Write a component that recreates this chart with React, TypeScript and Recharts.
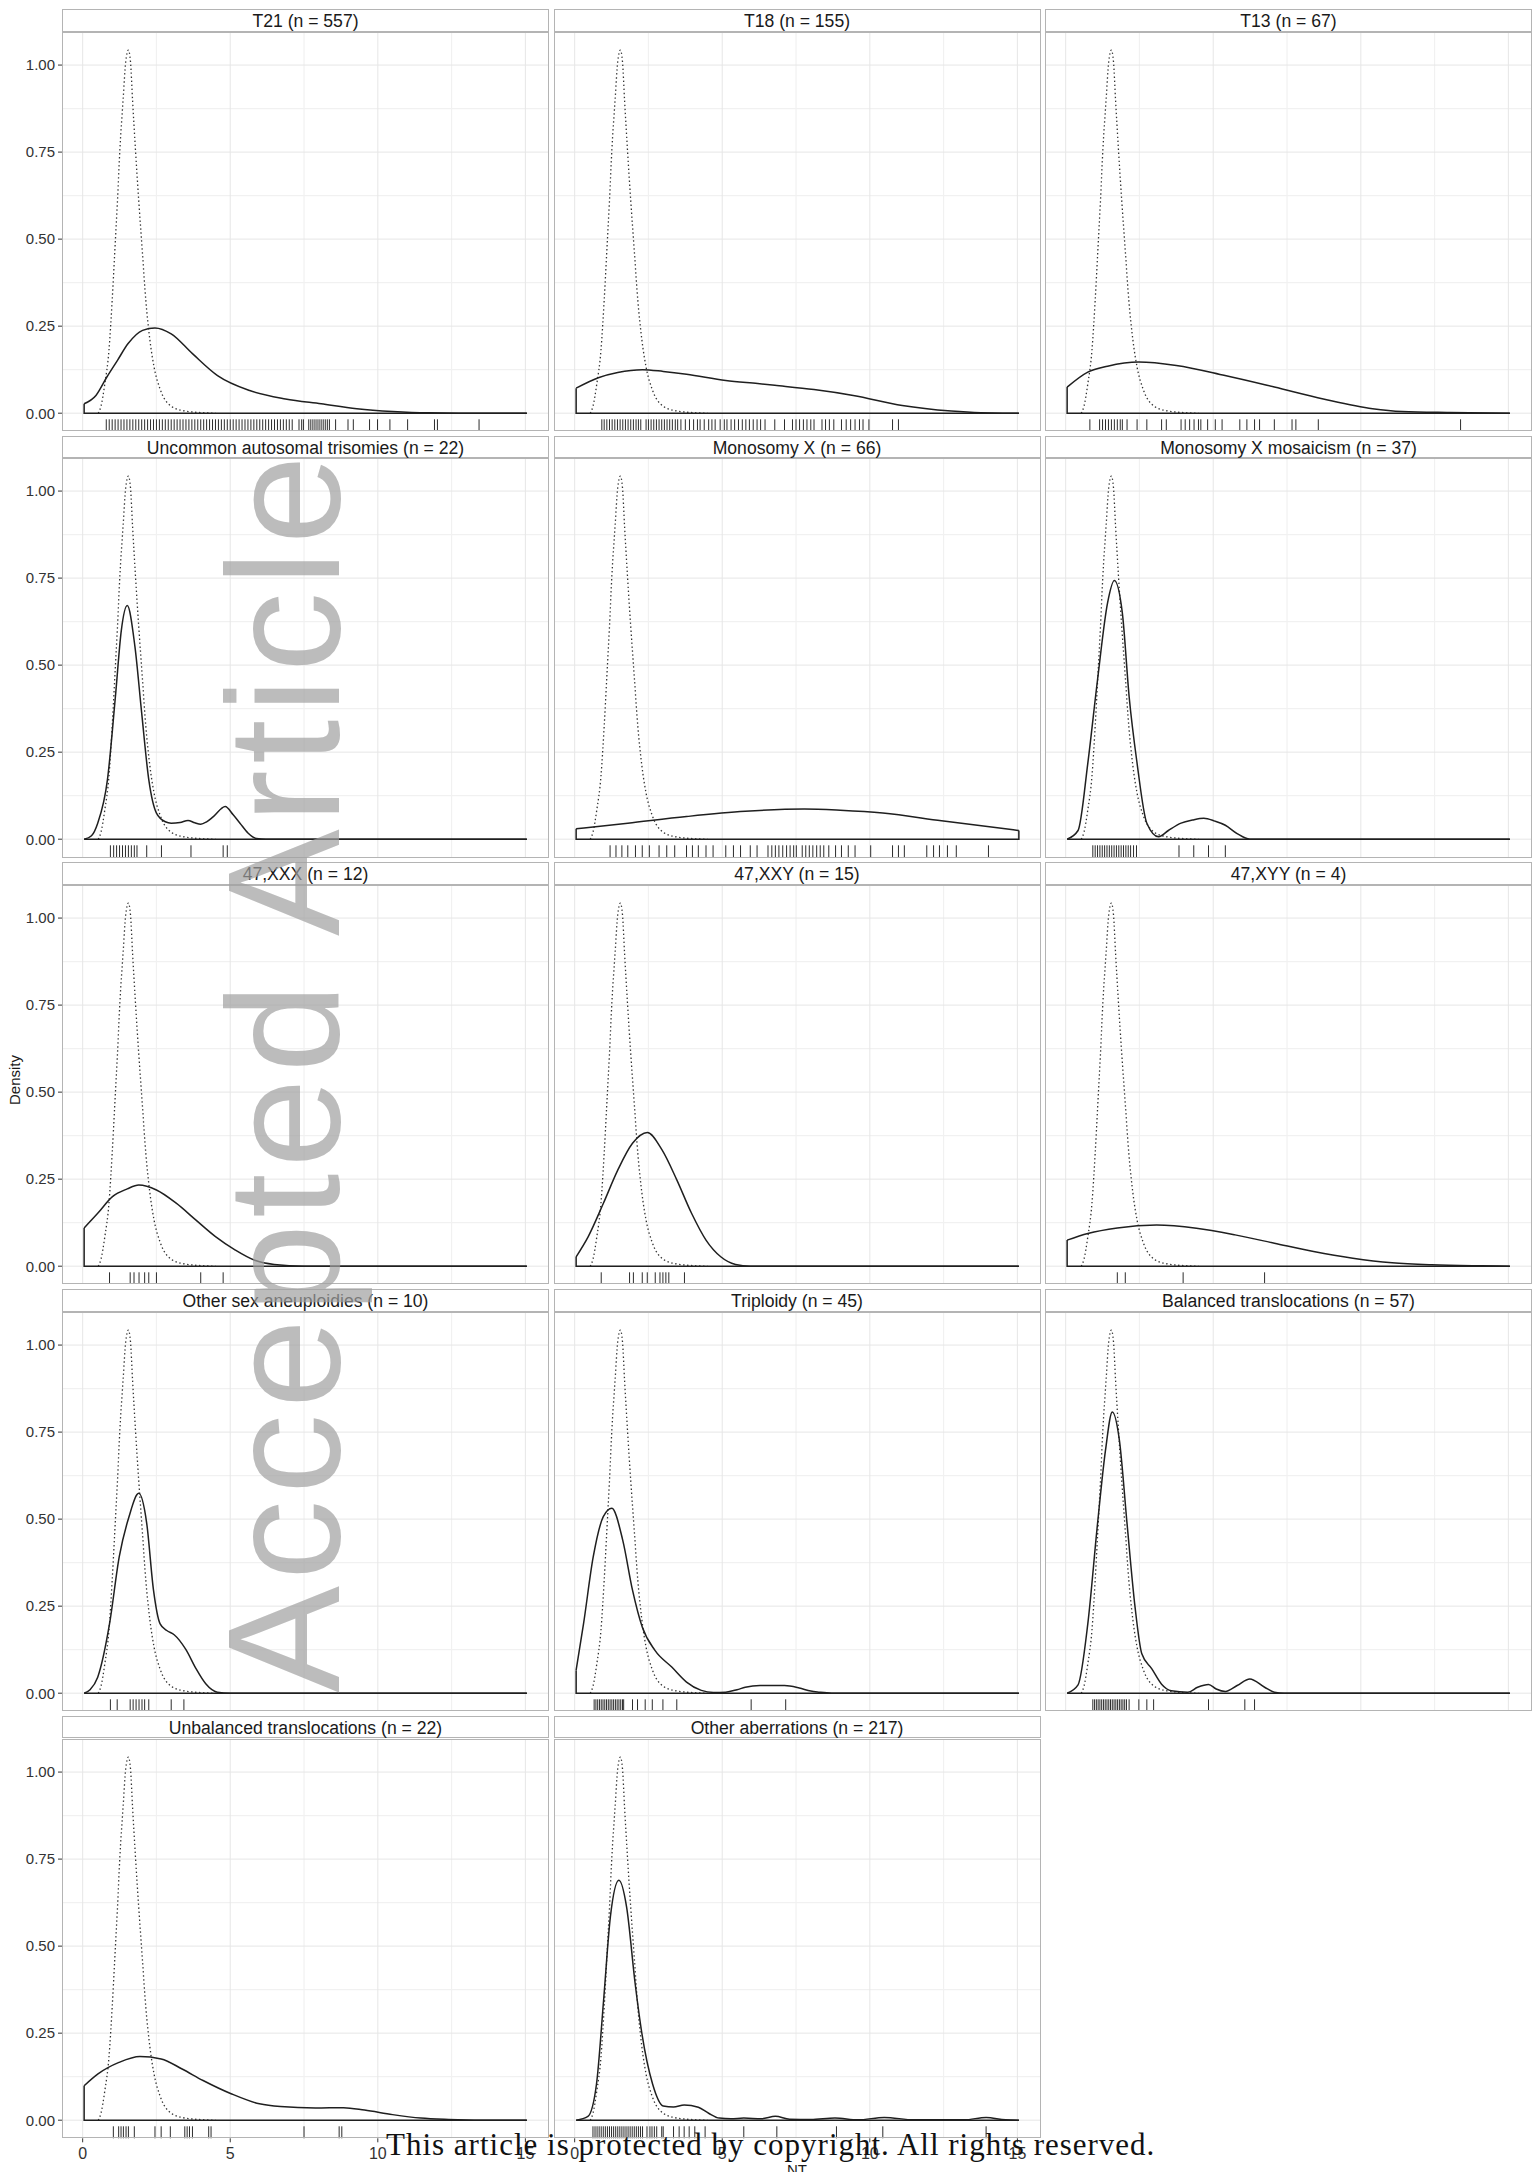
import React from "react";
import { ComposedChart, Line, Scatter, XAxis, YAxis, CartesianGrid } from "recharts";

type Pt = [number, number];

// dotted reference curve (euploid), drawn in every panel
const EUPLOID: Pt[] = [
  [0.53, 0], [0.62, 0.02], [0.75, 0.084], [0.89, 0.18], [1.0, 0.324], [1.09, 0.467],
  [1.18, 0.611], [1.26, 0.755], [1.37, 0.9], [1.46, 1.01], [1.55, 1.043], [1.62, 1.01],
  [1.69, 0.9], [1.79, 0.755], [1.9, 0.611], [2.02, 0.467], [2.14, 0.324], [2.28, 0.209],
  [2.42, 0.132], [2.62, 0.07], [2.9, 0.027], [3.35, 0.008], [4.14, 0.001], [4.5, 0],
];

// solid density curve + rug values, one pair per group
const T21_CURVE: Pt[] = [
  [0.05, 0.027], [0.45, 0.051], [0.82, 0.104], [1.18, 0.152], [1.54, 0.2], [2.03, 0.238],
  [2.45, 0.245], [3.0, 0.228], [3.72, 0.171], [4.57, 0.108], [5.66, 0.065], [6.87, 0.041],
  [8.08, 0.027], [9.29, 0.013], [10.5, 0.005], [11.7, 0.001], [13.4, 0], [15.05, 0],
];
const T21_RUG = [
  0.8, 0.9, 1.0, 1.1, 1.2, 1.3, 1.4, 1.5, 1.6, 1.7, 1.8, 1.9, 2.0, 2.1, 2.2, 2.3, 2.4, 2.5,
  2.6, 2.7, 2.8, 2.9, 3.0, 3.1, 3.2, 3.3, 3.4, 3.5, 3.6, 3.7, 3.8, 3.9, 4.0, 4.1, 4.2, 4.3,
  4.4, 4.5, 4.6, 4.7, 4.8, 4.9, 5.0, 5.1, 5.2, 5.3, 5.4, 5.5, 5.6, 5.7, 5.8, 5.9, 6.0, 6.1,
  6.2, 6.3, 6.4, 6.5, 6.6, 6.7, 6.8, 6.9, 7.0, 7.1, 7.33, 7.42, 7.48, 7.66, 7.73, 7.8, 7.87,
  7.94, 8.01, 8.08, 8.15, 8.22, 8.29, 8.36, 8.57, 8.99, 9.17, 9.72, 9.99, 10.41, 11.01,
  11.92, 12.02, 13.43,
];

const T18_CURVE: Pt[] = [
  [0.05, 0.072], [0.8, 0.102], [1.46, 0.117], [2.3, 0.125], [3.0, 0.12], [3.79, 0.112],
  [5.12, 0.094], [6.2, 0.085], [6.78, 0.08], [8.11, 0.068], [9.44, 0.051], [11.1, 0.022],
  [12.76, 0.006], [13.76, 0.001], [14.5, 0], [15.05, 0],
];
const T18_RUG = [
  0.92, 1.0, 1.09, 1.18, 1.27, 1.36, 1.45, 1.54, 1.63, 1.72, 1.81, 1.9, 1.99, 2.08, 2.16,
  2.24, 2.42, 2.5, 2.59, 2.68, 2.77, 2.86, 2.95, 3.04, 3.13, 3.22, 3.31, 3.41, 3.49, 3.6,
  3.75, 3.89, 4.03, 4.16, 4.25, 4.39, 4.54, 4.65, 4.76, 4.93, 5.07, 5.16, 5.3, 5.42, 5.55,
  5.68, 5.8, 5.92, 6.05, 6.18, 6.3, 6.45, 6.78, 7.11, 7.38, 7.5, 7.62, 7.75, 7.87, 8.0,
  8.11, 8.38, 8.5, 8.63, 8.78, 9.04, 9.2, 9.35, 9.5, 9.65, 9.77, 9.97, 10.77, 10.97,
];

const T13_CURVE: Pt[] = [
  [0.05, 0.075], [0.75, 0.118], [1.42, 0.135], [2.48, 0.147], [3.75, 0.137], [5.4, 0.108],
  [7.07, 0.075], [8.73, 0.041], [10.4, 0.013], [11.4, 0.005], [13.0, 0.002], [15.05, 0],
];
const T13_RUG = [
  0.82, 1.15, 1.25, 1.35, 1.45, 1.55, 1.65, 1.75, 1.85, 1.92, 2.08, 2.42, 2.75, 3.25, 3.41,
  3.91, 4.05, 4.2, 4.35, 4.5, 4.58, 4.81, 5.07, 5.3, 5.9, 6.14, 6.4, 6.57, 7.07, 7.67, 7.8,
  8.56, 13.38,
];

const UAT_CURVE: Pt[] = [
  [0.05, 0], [0.3, 0.01], [0.51, 0.046], [0.84, 0.171], [1.11, 0.41], [1.31, 0.6],
  [1.51, 0.671], [1.77, 0.554], [2.0, 0.362], [2.24, 0.171], [2.5, 0.075], [2.8, 0.05],
  [3.0, 0.046], [3.3, 0.048], [3.57, 0.054], [3.8, 0.047], [4.0, 0.043], [4.2, 0.05],
  [4.43, 0.065], [4.83, 0.094], [5.1, 0.07], [5.33, 0.046], [5.6, 0.018], [5.89, 0.002],
  [6.2, 0], [15.05, 0],
];
const UAT_RUG = [0.94, 1.05, 1.15, 1.25, 1.35, 1.45, 1.55, 1.65, 1.75, 1.84, 2.17, 2.67, 3.67, 4.76, 4.9];

const MONOX_CURVE: Pt[] = [
  [0.05, 0.03], [1.8, 0.046], [3.79, 0.065], [5.78, 0.08], [7.78, 0.0866], [9.0, 0.083],
  [10.44, 0.075], [12.43, 0.053], [15.05, 0.025],
];
const MONOX_RUG = [
  1.2, 1.4, 1.6, 1.8, 2.06, 2.29, 2.53, 2.86, 3.12, 3.39, 3.79, 3.99, 4.19, 4.45, 4.69, 5.12,
  5.38, 5.62, 5.95, 6.18, 6.55, 6.68, 6.8, 6.92, 7.05, 7.18, 7.3, 7.42, 7.51, 7.71, 7.83,
  7.95, 8.07, 8.2, 8.32, 8.44, 8.61, 8.84, 9.04, 9.27, 9.5, 10.03, 10.77, 10.97, 11.17,
  11.93, 12.16, 12.36, 12.63, 12.93, 14.02,
];

const MOSAIC_CURVE: Pt[] = [
  [0.05, 0], [0.42, 0.025], [0.75, 0.218], [1.08, 0.458], [1.42, 0.679], [1.65, 0.743],
  [1.92, 0.65], [2.15, 0.41], [2.42, 0.218], [2.75, 0.046], [3.15, 0.007], [3.48, 0.025],
  [3.91, 0.046], [4.3, 0.055], [4.68, 0.06], [5.05, 0.052], [5.41, 0.04], [5.81, 0.016],
  [6.24, 0], [15.05, 0],
];
const MOSAIC_RUG = [
  0.92, 1.0, 1.08, 1.16, 1.24, 1.32, 1.4, 1.48, 1.56, 1.64, 1.72, 1.8, 1.88, 1.96, 2.04,
  2.12, 2.2, 2.3, 2.4, 3.84, 4.34, 4.84, 5.41,
];

const XXX_CURVE: Pt[] = [
  [0.05, 0.11], [0.51, 0.152], [1.01, 0.2], [1.51, 0.222], [1.9, 0.233], [2.5, 0.219],
  [3.17, 0.181], [3.83, 0.133], [4.5, 0.085], [5.16, 0.047], [5.83, 0.017], [6.49, 0.005],
  [7.5, 0], [15.05, 0],
];
const XXX_RUG = [0.91, 1.61, 1.74, 1.91, 2.1, 2.24, 2.5, 4.0, 4.76];

const XXY_CURVE: Pt[] = [
  [0.05, 0.027], [0.46, 0.085], [0.97, 0.18], [1.46, 0.276], [1.96, 0.353], [2.46, 0.384],
  [2.96, 0.334], [3.46, 0.248], [3.96, 0.152], [4.45, 0.075], [4.95, 0.027], [5.45, 0.005],
  [5.95, 0], [15.05, 0],
];
const XXY_RUG = [0.9, 1.86, 1.99, 2.29, 2.46, 2.73, 2.89, 2.99, 3.09, 3.19, 3.72];

const XYY_CURVE: Pt[] = [
  [0.05, 0.075], [0.75, 0.094], [1.75, 0.11], [3.08, 0.118], [4.43, 0.109], [5.74, 0.09],
  [7.07, 0.066], [8.4, 0.042], [9.73, 0.023], [11.06, 0.01], [12.4, 0.004], [14.1, 0.001],
  [15.05, 0],
];
const XYY_RUG = [1.75, 2.02, 3.98, 6.74];

const OSA_CURVE: Pt[] = [
  [0.05, 0], [0.25, 0.01], [0.51, 0.046], [0.91, 0.199], [1.24, 0.392], [1.57, 0.507],
  [1.9, 0.574], [2.17, 0.488], [2.4, 0.296], [2.62, 0.2], [2.85, 0.18], [3.1, 0.168],
  [3.5, 0.125], [3.83, 0.072], [4.17, 0.027], [4.56, 0.003], [5.0, 0], [15.05, 0],
];
const OSA_RUG = [0.94, 1.17, 1.61, 1.71, 1.81, 1.91, 2.01, 2.1, 2.24, 3.0, 3.43];

const TRIP_CURVE: Pt[] = [
  [0.05, 0.066], [0.3, 0.199], [0.63, 0.392], [0.97, 0.507], [1.26, 0.531], [1.63, 0.439],
  [1.96, 0.296], [2.29, 0.19], [2.72, 0.123], [3.29, 0.075], [3.79, 0.032], [4.29, 0.008],
  [4.7, 0.002], [5.12, 0.003], [5.5, 0.01], [5.78, 0.017], [6.28, 0.022], [7.11, 0.022],
  [7.61, 0.015], [8.0, 0.006], [8.27, 0.003], [8.7, 0], [15.05, 0],
];
const TRIP_RUG = [
  0.66, 0.72, 0.78, 0.84, 0.9, 0.96, 1.02, 1.08, 1.14, 1.2, 1.26, 1.32, 1.38, 1.44, 1.5,
  1.56, 1.62, 1.66, 1.96, 2.13, 2.39, 2.63, 2.99, 3.46, 5.98, 7.15,
];

const BAL_CURVE: Pt[] = [
  [0.05, 0], [0.42, 0.024], [0.75, 0.199], [1.08, 0.487], [1.35, 0.698], [1.58, 0.808],
  [1.82, 0.727], [2.08, 0.487], [2.35, 0.248], [2.58, 0.113], [2.92, 0.07], [3.25, 0.026],
  [3.58, 0.007], [4.14, 0.003], [4.47, 0.017], [4.84, 0.025], [5.1, 0.012], [5.41, 0.005],
  [5.81, 0.022], [6.24, 0.041], [6.74, 0.017], [7.07, 0.003], [7.4, 0], [15.05, 0],
];
const BAL_RUG = [
  0.92, 0.98, 1.04, 1.1, 1.16, 1.22, 1.28, 1.34, 1.4, 1.46, 1.52, 1.58, 1.64, 1.7, 1.76,
  1.82, 1.88, 1.94, 2.0, 2.06, 2.15, 2.48, 2.75, 2.98, 4.84, 6.07, 6.4,
];

const UNBAL_CURVE: Pt[] = [
  [0.05, 0.099], [0.52, 0.133], [1.23, 0.166], [1.94, 0.183], [2.66, 0.176], [3.37, 0.147],
  [4.08, 0.114], [5.03, 0.076], [5.99, 0.047], [6.7, 0.039], [7.89, 0.035], [8.84, 0.036],
  [9.55, 0.029], [10.5, 0.016], [11.45, 0.006], [12.4, 0.002], [13.5, 0], [15.05, 0],
];
const UNBAL_RUG = [
  1.04, 1.22, 1.3, 1.38, 1.47, 1.55, 1.75, 2.45, 2.66, 2.97, 3.46, 3.54, 3.62, 3.72, 4.27,
  4.35, 7.5, 8.69, 8.78,
];

const OTHER_CURVE: Pt[] = [
  [0.05, 0], [0.45, 0.011], [0.74, 0.104], [0.98, 0.344], [1.21, 0.584], [1.5, 0.689],
  [1.76, 0.612], [2.05, 0.392], [2.28, 0.248], [2.64, 0.104], [3.0, 0.041], [3.35, 0.038],
  [3.71, 0.044], [4.19, 0.037], [4.54, 0.02], [4.9, 0.006], [5.3, 0.004], [5.73, 0.006],
  [6.33, 0.004], [6.8, 0.011], [7.28, 0.003], [8.0, 0.002], [8.82, 0.006], [9.6, 0.001],
  [10.49, 0.008], [11.5, 0.001], [13.2, 0.001], [13.94, 0.008], [14.6, 0.001], [15.05, 0],
];
const OTHER_RUG = [
  0.62, 0.69, 0.76, 0.83, 0.9, 0.97, 1.04, 1.11, 1.18, 1.25, 1.32, 1.39, 1.46, 1.53, 1.6,
  1.67, 1.74, 1.81, 1.88, 1.95, 2.02, 2.09, 2.16, 2.23, 2.3, 2.45, 2.55, 2.62, 2.7, 2.78,
  2.95, 3.0, 3.35, 3.54, 3.71, 3.88, 4.07, 4.42, 5.73, 6.85, 8.87, 10.44, 13.94,
];

const PANELS = [
  { title: "T21 (n = 557)", curve: T21_CURVE, rug: T21_RUG },
  { title: "T18 (n = 155)", curve: T18_CURVE, rug: T18_RUG },
  { title: "T13 (n = 67)", curve: T13_CURVE, rug: T13_RUG },
  { title: "Uncommon autosomal trisomies (n = 22)", curve: UAT_CURVE, rug: UAT_RUG },
  { title: "Monosomy X (n = 66)", curve: MONOX_CURVE, rug: MONOX_RUG },
  { title: "Monosomy X mosaicism (n = 37)", curve: MOSAIC_CURVE, rug: MOSAIC_RUG },
  { title: "47,XXX (n = 12)", curve: XXX_CURVE, rug: XXX_RUG },
  { title: "47,XXY (n = 15)", curve: XXY_CURVE, rug: XXY_RUG },
  { title: "47,XYY (n = 4)", curve: XYY_CURVE, rug: XYY_RUG },
  { title: "Other sex aneuploidies (n = 10)", curve: OSA_CURVE, rug: OSA_RUG },
  { title: "Triploidy (n = 45)", curve: TRIP_CURVE, rug: TRIP_RUG },
  { title: "Balanced translocations (n = 57)", curve: BAL_CURVE, rug: BAL_RUG },
  { title: "Unbalanced translocations (n = 22)", curve: UNBAL_CURVE, rug: UNBAL_RUG },
  { title: "Other aberrations (n = 217)", curve: OTHER_CURVE, rug: OTHER_RUG },
];

const X_MAJOR = [0, 5, 10, 15];
const X_MINOR = [2.5, 7.5, 12.5];
const Y_MAJOR = [0, 0.25, 0.5, 0.75, 1];
const Y_MINOR = [0.125, 0.375, 0.625, 0.875];
const X_LABELS = ["0", "5", "10", "15"];
const Y_LABELS = ["0.00", "0.25", "0.50", "0.75", "1.00"];
const X_DOMAIN: [number, number] = [-0.7, 15.8];
const Y_DOMAIN: [number, number] = [-0.052, 1.095];

// layout
const COL_X = [62, 553.5, 1045];
const PANEL_W = 487;
const ROW_Y0 = 9;
const ROW_PITCH = 426.7;
const STRIP_H = 22.7;
const PLOT_H = 399.3;
const AXIS_W = 62;
const X_AXIS_H = 30;
const FONT = "'Liberation Sans', Arial, Helvetica, sans-serif";
const BORDER = "1.5px solid #b4b4b4";

const toXY = (pts: Pt[]) => pts.map(([x, y]) => ({ x, y }));

const RugTick = (props: any) => (
  <line x1={props.cx} x2={props.cx} y1={props.cy} y2={props.cy - 12} stroke="#2b2b2b" strokeWidth={1} />
);

function Panel({ p, idx }: { p: (typeof PANELS)[number]; idx: number }) {
  const col = idx % 3;
  const row = Math.floor(idx / 3);
  const showY = col === 0;
  const showX = row === 4;
  const left = COL_X[col];
  const top = ROW_Y0 + row * ROW_PITCH;
  const width = PANEL_W + (showY ? AXIS_W : 0);
  const height = PLOT_H + (showX ? X_AXIS_H : 0);

  const first = p.curve[0];
  const last = p.curve[p.curve.length - 1];
  const frame = toXY([[first[0], first[1]], [first[0], 0], [last[0], 0], [last[0], last[1]]]);
  const rug = p.rug.map((v) => ({ x: v, y: Y_DOMAIN[0] }));

  return (
    <>
      <div
        style={{
          position: "absolute", left, top, width: PANEL_W, height: STRIP_H,
          border: BORDER, boxSizing: "border-box", background: "#fff",
          textAlign: "center", fontFamily: FONT, fontSize: 17.6, lineHeight: "23px",
          color: "#1a1a1a", whiteSpace: "nowrap", overflow: "visible",
        }}
      >
        {p.title}
      </div>
      <div style={{ position: "absolute", left: showY ? left - AXIS_W : left, top: top + STRIP_H }}>
        <ComposedChart width={width} height={height} margin={{ top: 0, right: 0, bottom: 0, left: 0 }}>
          <CartesianGrid verticalValues={X_MINOR} horizontalValues={Y_MINOR} stroke="#f1f1f1" strokeWidth={1.2} />
          <CartesianGrid verticalValues={X_MAJOR} horizontalValues={Y_MAJOR} stroke="#e6e6e6" strokeWidth={1} />
          <XAxis
            type="number" dataKey="x" domain={X_DOMAIN} ticks={X_MAJOR} hide={!showX}
            height={X_AXIS_H} axisLine={false} tickSize={4} tickMargin={5}
            tickLine={{ stroke: "#333" }}
            tickFormatter={(_v: number, i: number) => X_LABELS[i]}
            tick={{ fontSize: 16, fill: "#333", fontFamily: FONT }}
            interval={0}
          />
          <YAxis
            type="number" dataKey="y" domain={Y_DOMAIN} ticks={Y_MAJOR} hide={!showY}
            width={AXIS_W} axisLine={false} tickSize={4} tickMargin={3}
            tickLine={{ stroke: "#333" }}
            tickFormatter={(_v: number, i: number) => Y_LABELS[i]}
            tick={{ fontSize: 15, fill: "#333", fontFamily: FONT }}
            interval={0}
          />
          <Line
            data={toXY(EUPLOID)} dataKey="y" type="monotone" stroke="#333" strokeWidth={1.3}
            strokeDasharray="1.4 2.6" dot={false} activeDot={false} isAnimationActive={false}
          />
          <Line
            data={frame} dataKey="y" type="linear" stroke="#1f1f1f" strokeWidth={1.5}
            dot={false} activeDot={false} isAnimationActive={false}
          />
          <Line
            data={toXY(p.curve)} dataKey="y" type="monotone" stroke="#1f1f1f" strokeWidth={1.5}
            dot={false} activeDot={false} isAnimationActive={false}
          />
          <Scatter data={rug} shape={RugTick} isAnimationActive={false} />
        </ComposedChart>
      </div>
      <div
        style={{
          position: "absolute", left, top: top + STRIP_H, width: PANEL_W, height: PLOT_H,
          border: BORDER, boxSizing: "border-box", pointerEvents: "none",
        }}
      />
    </>
  );
}

export default function App() {
  return (
    <div
      style={{
        position: "absolute", left: 0, top: 0, width: 1537, height: 2172,
        overflow: "hidden", background: "#fff",
      }}
    >
      {PANELS.map((p, i) => (
        <Panel key={p.title} p={p} idx={i} />
      ))}
      <svg width={1537} height={2172} style={{ position: "absolute", left: 0, top: 0, pointerEvents: "none" }}>
        <text
          x={19.5} y={1080} transform="rotate(-90 19.5 1080)" textAnchor="middle"
          fontFamily={FONT} fontSize={15} fill="#1a1a1a"
        >
          Density
        </text>
        <text x={797} y={2175} textAnchor="middle" fontFamily={FONT} fontSize={15} fill="#1a1a1a">
          NT
        </text>
        <text
          x={339} y={1071} transform="rotate(-90 339 1071)" textAnchor="middle"
          fontFamily={FONT} fontSize={160} letterSpacing={6} fill="#a0a0a0" fillOpacity={0.7}
        >
          Accepted Article
        </text>
        <text
          x={386} y={2155} fontFamily="'Liberation Serif', 'Times New Roman', serif"
          fontSize={31} letterSpacing={1} fill="#111"
        >
          This article is protected by copyright. All rights reserved.
        </text>
      </svg>
    </div>
  );
}
